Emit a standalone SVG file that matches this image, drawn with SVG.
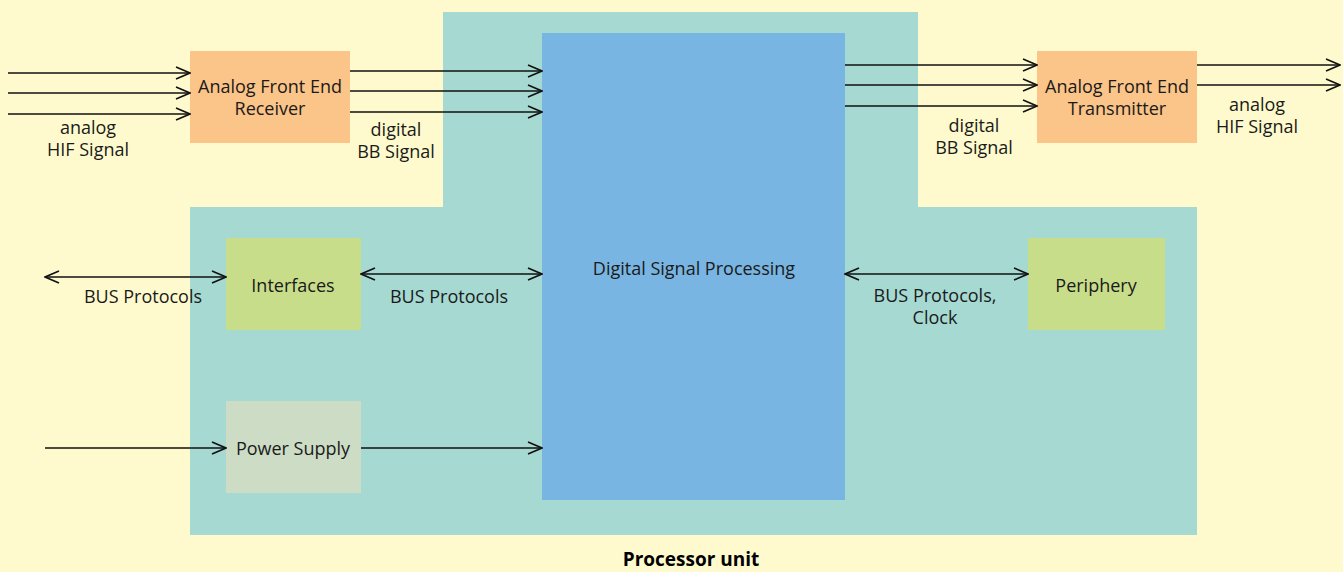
<svg xmlns="http://www.w3.org/2000/svg" width="1343" height="572" viewBox="0 0 1343 572">
<style>
text{font-family:"Open Sans","DejaVu Sans",sans-serif;font-size:18px;fill:#1a1a1a;text-anchor:middle}
.b{font-weight:bold;font-size:19px;fill:#000}
.c{stroke:#111;stroke-width:1.6;fill:none}
</style>
<defs>
<marker id="ah" viewBox="0 0 16 14" refX="15" refY="7" markerWidth="16" markerHeight="14" markerUnits="userSpaceOnUse" orient="auto-start-reverse">
<path d="M1,1 L15,7 L1,13" fill="none" stroke="#111" stroke-width="1.6"/>
</marker>
</defs>
<rect width="1343" height="572" fill="#FEFACD"/>
<g id="processor-unit">
<path d="M443,12 H918 V207 H1197 V535 H190 V207 H443 Z" fill="#A5D9D2"/>
<text class="b" x="691" y="566">Processor unit</text>
</g>
<g id="dsp">
<rect x="542" y="33" width="303" height="467" fill="#79B5E2"/>
<text x="694" y="275">Digital Signal Processing</text>
</g>
<g id="afe-rx">
<rect x="190" y="51" width="160" height="92" fill="#FBC488"/>
<text x="270" y="93">Analog Front End<tspan x="270" dy="22">Receiver</tspan></text>
</g>
<g id="afe-tx">
<rect x="1037" y="51" width="160" height="92" fill="#FBC488"/>
<text x="1117" y="93">Analog Front End<tspan x="1117" dy="22">Transmitter</tspan></text>
</g>
<g id="interfaces">
<rect x="226" y="238" width="135" height="92" fill="#C8DD8A"/>
<text x="293" y="292">Interfaces</text>
</g>
<g id="periphery">
<rect x="1028" y="238" width="137" height="92" fill="#C8DD8A"/>
<text x="1096" y="292">Periphery</text>
</g>
<g id="power">
<rect x="226" y="401" width="135" height="92" fill="#CDDCC4"/>
<text x="293" y="455">Power Supply</text>
</g>
<g id="connectors">
<path class="c" marker-end="url(#ah)" d="M8,73 H190"/>
<path class="c" marker-end="url(#ah)" d="M8,93 H190"/>
<path class="c" marker-end="url(#ah)" d="M8,114 H190"/>
<path class="c" marker-end="url(#ah)" d="M350,71 H542"/>
<path class="c" marker-end="url(#ah)" d="M350,91 H542"/>
<path class="c" marker-end="url(#ah)" d="M350,112 H542"/>
<path class="c" marker-end="url(#ah)" d="M845,65 H1037"/>
<path class="c" marker-end="url(#ah)" d="M845,85 H1037"/>
<path class="c" marker-end="url(#ah)" d="M845,106 H1037"/>
<path class="c" marker-end="url(#ah)" d="M1197,65 H1340"/>
<path class="c" marker-end="url(#ah)" d="M1197,85 H1340"/>
<path class="c" marker-start="url(#ah)" marker-end="url(#ah)" d="M45,277 H226"/>
<path class="c" marker-start="url(#ah)" marker-end="url(#ah)" d="M361,274 H542"/>
<path class="c" marker-start="url(#ah)" marker-end="url(#ah)" d="M845,274 H1028"/>
<path class="c" marker-end="url(#ah)" d="M45,448 H226"/>
<path class="c" marker-end="url(#ah)" d="M361,448 H542"/>
<text x="88" y="134">analog<tspan x="88" dy="22">HIF Signal</tspan></text>
<text x="396" y="136">digital<tspan x="396" dy="22">BB Signal</tspan></text>
<text x="974" y="132">digital<tspan x="974" dy="22">BB Signal</tspan></text>
<text x="1257" y="111">analog<tspan x="1257" dy="22">HIF Signal</tspan></text>
<text x="143" y="303">BUS Protocols</text>
<text x="449" y="303">BUS Protocols</text>
<text x="935" y="302">BUS Protocols,<tspan x="935" dy="22">Clock</tspan></text>
</g>
</svg>
